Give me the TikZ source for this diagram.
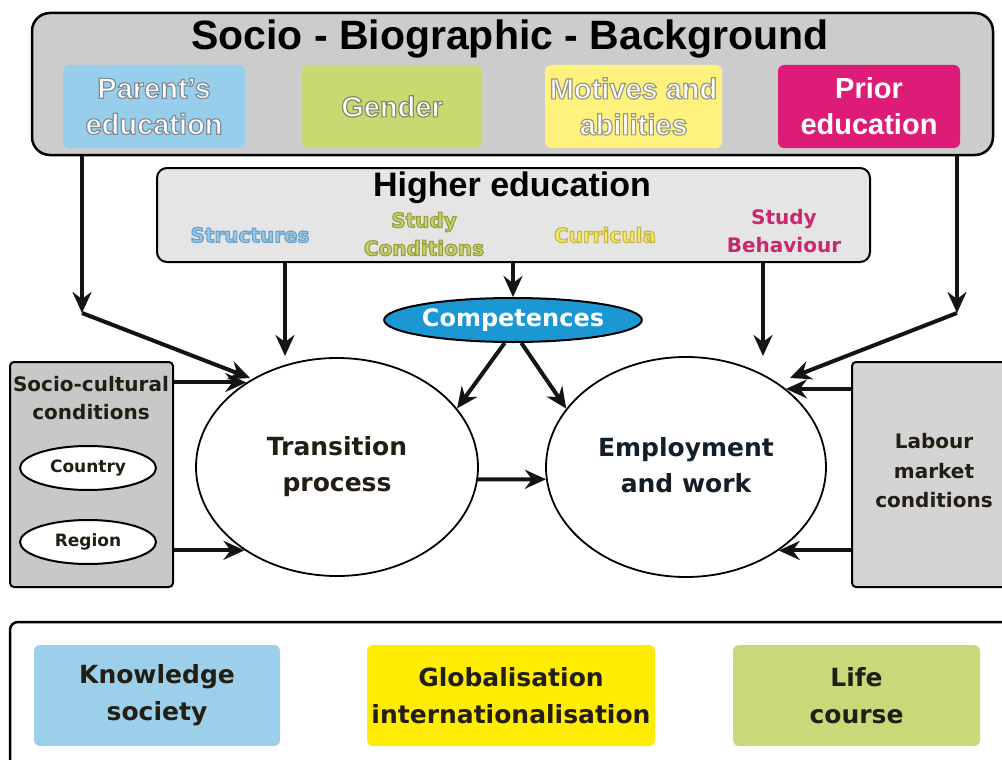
\documentclass[tikz,border=0pt]{standalone}
\usepackage{fontspec}
\setmainfont{Liberation Sans}
\newfontfamily\dv{DejaVu Sans}
\usetikzlibrary{arrows.meta,shapes.geometric,fit}
\definecolor{boxgray}{RGB}{204,204,204}
\definecolor{hegray}{RGB}{229,229,229}
\definecolor{scgray}{RGB}{200,200,200}
\definecolor{lmgray}{RGB}{212,212,212}
\definecolor{lblue}{RGB}{150,206,236}
\definecolor{olive}{RGB}{201,216,112}
\definecolor{lyellow}{RGB}{255,241,125}
\definecolor{magen}{RGB}{221,28,119}
\definecolor{yell}{RGB}{255,236,0}
\definecolor{compblue}{RGB}{27,152,212}
\definecolor{kblue}{RGB}{156,208,234}
\definecolor{lifegreen}{RGB}{200,217,122}
\definecolor{strfill}{RGB}{150,200,232}
\definecolor{condfill}{RGB}{200,210,110}
\definecolor{currfill}{RGB}{245,232,110}
\definecolor{behav}{RGB}{200,40,110}
\definecolor{darktext}{RGB}{35,30,20}
\definecolor{navytext}{RGB}{20,30,40}
\newcommand\olt[3]{{\color{#2}\special{pdf:literal direct #1 RG 1.2 w 2 Tr}#3\special{pdf:literal direct 0 Tr}}}
\tikzset{
  topbox/.style={draw, fill=boxgray, rounded corners=18pt, line width=2.5pt, inner sep=0pt},
  cbox/.style={rounded corners=6pt, inner sep=0pt},
  ctxt/.style={align=center, inner sep=0pt, font=\fontsize{29}{36}\selectfont\bfseries},
  hebox/.style={draw, fill=hegray, rounded corners=10pt, line width=2pt, inner sep=0pt},
  subtxt/.style={align=center, font=\dv\bfseries\fontsize{20}{28}\selectfont},
  bigell/.style={ellipse, draw, line width=1.8pt, fill=white, inner sep=0pt, align=center, font=\dv\bfseries\fontsize{25}{36}\selectfont},
  sidebox/.style={draw, line width=2pt, rounded corners=4pt, inner sep=0pt},
  smallell/.style={ellipse, draw, line width=2pt, fill=white, inner sep=0pt, minimum width=136pt, minimum height=44pt, font=\dv\bfseries\fontsize{17}{20}\selectfont, text=darktext},
  botbox/.style={rounded corners=6pt, inner sep=0pt},
  bottxt/.style={align=center, inner sep=0pt, font=\dv\bfseries\fontsize{25}{37}\selectfont, text=darktext},
  arr/.style={line width=4pt, draw=black!92, -{Stealth[length=21pt,width=19pt,inset=7pt]}}
}
\begin{document}
\begin{tikzpicture}[x=1pt,y=-1pt]
\useasboundingbox[fill=white] (0,0) rectangle (1002,760);
% top background box
\node[topbox, fit={(32,13)(993,155)}] (sbb) {};
\node[font=\fontsize{41}{48}\selectfont\bfseries] (sbt) at (510,39) {Socio - Biographic - Background};
\node[cbox, fill=lblue, fit={(63,65)(245,148)}] (pe) {};
\node[ctxt] (pet) at (pe.center) {\olt{0.5 0.55 0.6}{white}{Parent’s}\\\olt{0.5 0.55 0.6}{white}{education}};
\node[cbox, fill=olive, fit={(302,65)(482,148)}] (gen) {};
\node[ctxt] (gent) at (gen.center) {\olt{0.5 0.55 0.4}{white}{Gender}};
\node[cbox, fill=lyellow, fit={(545,65)(722,148)}] (mot) {};
\node[ctxt] (mott) at (mot.center) {\olt{0.6 0.6 0.5}{white}{Motives and}\\\olt{0.6 0.6 0.5}{white}{abilities}};
\node[cbox, fill=magen, fit={(778,65)(960,148)}] (pri) {};
\node[ctxt, text=white] (prit) at (pri.center) {Prior\\education};
% higher education
\node[hebox, fit={(157,168)(870,262)}] (he) {};
\node[font=\fontsize{34}{40}\selectfont\bfseries] (het) at (512,188) {Higher education};
\node[subtxt] (str) at (250,235) {\olt{0.43 0.63 0.78}{strfill}{Structures}};
\node[subtxt] (sc1) at (424,234) {\olt{0.6 0.63 0.25}{condfill}{Study}\\\olt{0.6 0.63 0.25}{condfill}{Conditions}};
\node[subtxt] (cur) at (605,235) {\olt{0.78 0.72 0.28}{currfill}{Curricula}};
\node[subtxt, text=behav] (beh) at (784,231) {Study\\Behaviour};
% competences
\node[ellipse, draw, line width=2pt, fill=compblue, minimum width=246pt, minimum height=44pt, inner sep=0pt, text=white, font=\dv\bfseries\fontsize{24}{28}\selectfont] (comp) at (513,320) {Competences};
% main ellipses
\node[bigell, minimum width=282pt, minimum height=218pt, text=darktext] (tp) at (337,467) {Transition\\process};
\node[bigell, minimum width=280pt, minimum height=220pt, text=navytext] (ep) at (686,467) {\raisebox{4pt}{Employment}\\\raisebox{4pt}{and work}};
% side boxes
\node[sidebox, fill=scgray, fit={(10,362)(173,587)}] (sc) {};
\node[subtxt, text=darktext] (sct) at (91,398) {Socio-cultural\\conditions};
\node[smallell] (cty) at (88,468) {Country};
\node[smallell] (reg) at (88,542) {Region};
\node[sidebox, fill=lmgray, fit={(852,362)(1014,587)}] (lm) {};
\node[align=center, font=\dv\bfseries\fontsize{20}{29.5}\selectfont, text=darktext] (lmt) at (934,471) {Labour\\market\\conditions};
% bottom box
\node[draw, line width=2.5pt, rounded corners=8pt, fill=white, inner sep=0pt, fit={(10,622)(1014,775)}] (bot) {};
\node[botbox, fill=kblue, fit={(34,645)(280,746)}] (ks) {};
\node[bottxt] (kst) at (ks.center) {Knowledge\\society};
\node[botbox, fill=yell, fit={(367,645)(655,746)}] (gi) {};
\node[bottxt] (git) at (gi.center) {Globalisation\\internationalisation};
\node[botbox, fill=lifegreen, fit={(733,645)(980,746)}] (lc) {};
\node[bottxt] (lct) at (lc.center) {Life\\course};
% connectors
\coordinate (lj) at (82,313);
\coordinate (rj) at (957,313);
\coordinate (ltip) at (250,378);
\coordinate (rtip) at (790,378);
\coordinate (stip) at (285,356);
\coordinate (btip) at (763,356);
\draw[arr] (sbb.south -| lj) -- (lj);
\draw[arr] (lj) -- (ltip);
\draw[arr] (sbb.south -| rj) -- (rj);
\draw[arr] (rj) -- (rtip);
\draw[arr] (he.south -| stip) -- (stip);
\draw[arr] (he.south -| btip) -- (btip);
\draw[arr] (he.south -| comp.north) -- (comp.north);
\draw[arr] (comp.250) -- (tp.26);
\draw[arr] (comp.290) -- (ep.154);
\draw[arr] (tp.-5) -- (ep.185);
\draw[arr] (tp.137 -| sc.east) -- (tp.137);
\draw[arr] (tp.222 -| sc.east) -- (tp.222);
\draw[arr] (ep.38 -| lm.west) -- (ep.38);
\draw[arr] (ep.-42 -| lm.west) -- (ep.-42);
\end{tikzpicture}
\end{document}
